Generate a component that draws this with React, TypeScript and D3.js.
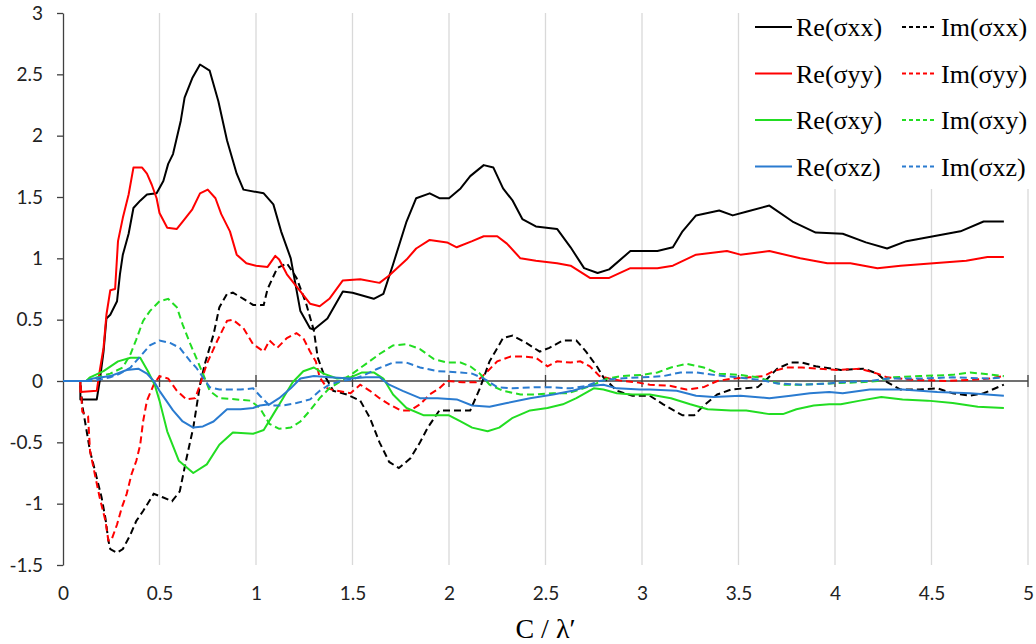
import React, { useEffect, useRef } from 'react';
import * as d3 from 'd3';

type Pt = [number, number];

const xTicks = [0, 0.5, 1, 1.5, 2, 2.5, 3, 3.5, 4, 4.5, 5];
const yTicks = [-1.5, -1, -0.5, 0, 0.5, 1, 1.5, 2, 2.5, 3];

const reXX: Pt[] = [[0,0],[0.09,0],[0.09,-0.15],[0.175,-0.15],[0.19,0],[0.21,0.24],[0.225,0.51],[0.245,0.54],[0.28,0.65],[0.295,0.87],[0.31,1.03],[0.34,1.2],[0.365,1.41],[0.4,1.47],[0.435,1.52],[0.485,1.53],[0.52,1.63],[0.545,1.77],[0.57,1.85],[0.61,2.12],[0.63,2.31],[0.67,2.47],[0.71,2.58],[0.76,2.53],[0.805,2.28],[0.85,1.96],[0.9,1.69],[0.935,1.56],[1.04,1.53],[1.09,1.44],[1.13,1.22],[1.18,1.0],[1.23,0.57],[1.28,0.43],[1.3,0.42],[1.37,0.51],[1.45,0.73],[1.5,0.72],[1.61,0.67],[1.66,0.71],[1.71,0.95],[1.78,1.3],[1.83,1.49],[1.9,1.53],[1.95,1.49],[2.0,1.49],[2.06,1.57],[2.11,1.67],[2.18,1.76],[2.23,1.74],[2.28,1.57],[2.33,1.47],[2.38,1.32],[2.45,1.26],[2.56,1.24],[2.63,1.09],[2.7,0.92],[2.77,0.88],[2.83,0.91],[2.94,1.06],[3.08,1.06],[3.16,1.09],[3.21,1.22],[3.28,1.35],[3.4,1.39],[3.47,1.35],[3.54,1.38],[3.66,1.43],[3.78,1.3],[3.9,1.21],[4.04,1.2],[4.16,1.13],[4.27,1.08],[4.37,1.14],[4.51,1.18],[4.65,1.22],[4.77,1.3],[4.875,1.3]];

const imXX: Pt[] = [[0,0],[0.09,0],[0.1,-0.2],[0.14,-0.57],[0.175,-0.79],[0.2,-0.95],[0.22,-1.12],[0.235,-1.3],[0.245,-1.37],[0.28,-1.4],[0.31,-1.37],[0.35,-1.25],[0.38,-1.14],[0.415,-1.06],[0.47,-0.92],[0.52,-0.95],[0.565,-0.98],[0.605,-0.9],[0.64,-0.63],[0.675,-0.38],[0.71,-0.03],[0.735,0.14],[0.78,0.38],[0.81,0.6],[0.85,0.71],[0.88,0.72],[0.935,0.67],[0.985,0.62],[1.04,0.62],[1.06,0.75],[1.11,0.92],[1.16,0.96],[1.21,0.84],[1.26,0.63],[1.3,0.41],[1.32,0.19],[1.35,0.06],[1.4,-0.08],[1.47,-0.11],[1.54,-0.16],[1.59,-0.3],[1.64,-0.5],[1.69,-0.66],[1.74,-0.71],[1.8,-0.63],[1.85,-0.5],[1.89,-0.38],[1.95,-0.24],[2.04,-0.24],[2.11,-0.24],[2.16,-0.06],[2.21,0.16],[2.28,0.35],[2.33,0.37],[2.4,0.31],[2.47,0.24],[2.52,0.27],[2.59,0.33],[2.66,0.33],[2.71,0.24],[2.77,0.11],[2.8,0.03],[2.87,-0.08],[2.95,-0.12],[3.04,-0.12],[3.11,-0.19],[3.21,-0.28],[3.27,-0.28],[3.32,-0.2],[3.39,-0.11],[3.46,-0.07],[3.6,-0.05],[3.65,0.02],[3.7,0.1],[3.77,0.15],[3.83,0.15],[3.9,0.12],[4.03,0.09],[4.15,0.1],[4.22,0.06],[4.27,-0.01],[4.34,-0.07],[4.44,-0.07],[4.53,-0.06],[4.61,-0.1],[4.7,-0.12],[4.77,-0.1],[4.875,-0.03]];

const reYY: Pt[] = [[0,0],[0.09,0],[0.09,-0.09],[0.175,-0.08],[0.19,0.08],[0.21,0.27],[0.225,0.54],[0.245,0.74],[0.27,0.75],[0.285,1.14],[0.31,1.33],[0.34,1.52],[0.365,1.74],[0.41,1.74],[0.435,1.69],[0.46,1.6],[0.485,1.49],[0.5,1.37],[0.54,1.25],[0.59,1.24],[0.62,1.3],[0.67,1.4],[0.71,1.53],[0.75,1.56],[0.79,1.49],[0.82,1.36],[0.865,1.22],[0.9,1.03],[0.95,0.96],[1.0,0.94],[1.06,0.93],[1.1,1.02],[1.12,0.99],[1.16,0.87],[1.23,0.73],[1.28,0.63],[1.33,0.61],[1.38,0.67],[1.45,0.82],[1.54,0.83],[1.64,0.8],[1.69,0.86],[1.78,0.99],[1.83,1.08],[1.9,1.15],[1.99,1.13],[2.04,1.09],[2.12,1.14],[2.18,1.18],[2.25,1.18],[2.3,1.12],[2.37,1.0],[2.45,0.98],[2.56,0.96],[2.63,0.94],[2.73,0.84],[2.83,0.84],[2.94,0.92],[3.08,0.92],[3.16,0.94],[3.28,1.03],[3.44,1.06],[3.51,1.03],[3.66,1.06],[3.82,1.0],[3.96,0.96],[4.08,0.96],[4.22,0.92],[4.34,0.94],[4.51,0.96],[4.68,0.98],[4.79,1.01],[4.875,1.01]];

const imYY: Pt[] = [[0,0],[0.09,0],[0.1,-0.25],[0.13,-0.29],[0.14,-0.57],[0.165,-0.76],[0.19,-0.95],[0.22,-1.14],[0.235,-1.3],[0.25,-1.3],[0.28,-1.17],[0.305,-1.03],[0.33,-0.92],[0.355,-0.76],[0.38,-0.65],[0.4,-0.52],[0.415,-0.33],[0.435,-0.16],[0.47,-0.03],[0.5,0.04],[0.545,0.02],[0.59,-0.08],[0.64,-0.15],[0.685,-0.14],[0.71,-0.03],[0.745,0.14],[0.8,0.33],[0.85,0.49],[0.88,0.5],[0.935,0.43],[0.985,0.3],[1.04,0.24],[1.07,0.33],[1.11,0.27],[1.16,0.35],[1.21,0.39],[1.245,0.35],[1.28,0.24],[1.31,0.16],[1.33,0.03],[1.37,-0.06],[1.42,-0.08],[1.49,-0.1],[1.54,-0.03],[1.59,-0.08],[1.64,-0.14],[1.69,-0.19],[1.75,-0.24],[1.8,-0.24],[1.85,-0.19],[1.9,-0.11],[1.95,-0.06],[1.99,0.0],[2.07,-0.01],[2.14,-0.01],[2.2,0.08],[2.25,0.16],[2.32,0.2],[2.38,0.2],[2.45,0.19],[2.51,0.12],[2.56,0.16],[2.63,0.15],[2.68,0.16],[2.73,0.12],[2.78,0.04],[2.83,0.02],[2.9,0.0],[2.97,-0.01],[3.04,-0.03],[3.15,-0.04],[3.23,-0.07],[3.32,-0.05],[3.39,0.0],[3.47,0.02],[3.56,0.03],[3.63,0.04],[3.68,0.08],[3.75,0.11],[3.83,0.11],[3.92,0.1],[4.01,0.09],[4.13,0.1],[4.22,0.06],[4.27,0.03],[4.4,0.01],[4.58,0.0],[4.71,0.01],[4.8,0.02],[4.875,0.04]];

const reXY: Pt[] = [[0,0],[0.12,0],[0.14,0.03],[0.21,0.08],[0.285,0.16],[0.35,0.19],[0.4,0.19],[0.44,0.08],[0.475,-0.03],[0.5,-0.16],[0.54,-0.41],[0.6,-0.65],[0.675,-0.75],[0.745,-0.68],[0.81,-0.52],[0.88,-0.42],[0.985,-0.43],[1.04,-0.4],[1.09,-0.27],[1.14,-0.14],[1.19,-0.01],[1.245,0.08],[1.3,0.11],[1.35,0.06],[1.42,0.02],[1.49,0.03],[1.55,0.07],[1.61,0.07],[1.66,0.02],[1.71,-0.11],[1.78,-0.22],[1.87,-0.28],[1.94,-0.28],[2.0,-0.28],[2.06,-0.33],[2.12,-0.38],[2.2,-0.41],[2.26,-0.38],[2.33,-0.3],[2.42,-0.24],[2.51,-0.22],[2.59,-0.19],[2.66,-0.14],[2.75,-0.06],[2.8,-0.07],[2.87,-0.1],[2.95,-0.11],[3.04,-0.11],[3.15,-0.14],[3.25,-0.19],[3.34,-0.23],[3.46,-0.24],[3.54,-0.24],[3.66,-0.27],[3.73,-0.27],[3.8,-0.23],[3.89,-0.2],[3.97,-0.19],[4.03,-0.19],[4.13,-0.16],[4.24,-0.13],[4.35,-0.15],[4.48,-0.16],[4.61,-0.18],[4.74,-0.21],[4.875,-0.22]];

const imXY: Pt[] = [[0,0],[0.12,0],[0.155,0.02],[0.245,0.06],[0.31,0.11],[0.35,0.22],[0.38,0.34],[0.415,0.49],[0.45,0.57],[0.5,0.65],[0.545,0.67],[0.59,0.6],[0.62,0.46],[0.66,0.3],[0.69,0.19],[0.725,0.06],[0.76,-0.08],[0.81,-0.14],[0.9,-0.15],[0.97,-0.16],[1.02,-0.22],[1.07,-0.35],[1.12,-0.39],[1.18,-0.38],[1.23,-0.33],[1.28,-0.24],[1.33,-0.14],[1.38,-0.06],[1.44,0.0],[1.5,0.06],[1.57,0.14],[1.64,0.22],[1.71,0.29],[1.78,0.3],[1.85,0.26],[1.92,0.18],[1.99,0.15],[2.06,0.15],[2.11,0.12],[2.16,0.06],[2.21,-0.03],[2.28,-0.08],[2.37,-0.11],[2.45,-0.11],[2.54,-0.1],[2.61,-0.1],[2.68,-0.07],[2.75,-0.03],[2.82,0.02],[2.89,0.04],[3.0,0.05],[3.08,0.07],[3.15,0.11],[3.23,0.14],[3.32,0.11],[3.4,0.06],[3.51,0.05],[3.6,0.03],[3.66,0.0],[3.73,-0.03],[3.83,-0.03],[3.97,-0.02],[4.13,-0.01],[4.22,0.0],[4.3,0.03],[4.44,0.04],[4.61,0.05],[4.7,0.07],[4.875,0.04]];

const reXZ: Pt[] = [[0,0],[0.12,0],[0.155,0.02],[0.245,0.04],[0.33,0.09],[0.39,0.1],[0.435,0.06],[0.47,0.0],[0.5,-0.08],[0.57,-0.24],[0.62,-0.33],[0.675,-0.38],[0.725,-0.37],[0.78,-0.33],[0.85,-0.23],[0.92,-0.23],[0.985,-0.22],[1.02,-0.2],[1.07,-0.19],[1.12,-0.14],[1.18,-0.06],[1.23,0.02],[1.3,0.04],[1.38,0.03],[1.49,0.02],[1.57,0.03],[1.64,0.03],[1.69,-0.03],[1.76,-0.08],[1.85,-0.14],[1.94,-0.14],[2.04,-0.15],[2.12,-0.2],[2.21,-0.21],[2.3,-0.18],[2.42,-0.14],[2.54,-0.11],[2.64,-0.08],[2.73,-0.04],[2.8,-0.03],[2.87,-0.06],[2.99,-0.07],[3.04,-0.07],[3.18,-0.08],[3.28,-0.12],[3.37,-0.13],[3.51,-0.12],[3.66,-0.14],[3.77,-0.12],[3.87,-0.1],[3.97,-0.09],[4.04,-0.1],[4.18,-0.07],[4.35,-0.07],[4.53,-0.09],[4.7,-0.1],[4.875,-0.12]];

const imXZ: Pt[] = [[0,0],[0.12,0],[0.155,0.0],[0.245,0.03],[0.295,0.06],[0.35,0.11],[0.4,0.2],[0.45,0.29],[0.5,0.33],[0.555,0.31],[0.605,0.27],[0.66,0.16],[0.69,0.11],[0.725,0.03],[0.76,-0.05],[0.81,-0.07],[0.92,-0.07],[0.985,-0.06],[1.02,-0.12],[1.07,-0.2],[1.14,-0.2],[1.21,-0.18],[1.28,-0.15],[1.33,-0.08],[1.38,-0.03],[1.44,0.0],[1.49,0.01],[1.55,0.04],[1.63,0.1],[1.71,0.15],[1.78,0.15],[1.85,0.11],[1.94,0.08],[2.06,0.07],[2.12,0.06],[2.18,0.02],[2.25,-0.05],[2.33,-0.06],[2.44,-0.05],[2.52,-0.05],[2.63,-0.06],[2.71,-0.04],[2.78,0.0],[2.87,0.02],[3.0,0.03],[3.11,0.04],[3.2,0.07],[3.28,0.07],[3.37,0.05],[3.49,0.03],[3.61,0.01],[3.7,-0.02],[3.83,-0.03],[3.97,-0.02],[4.03,-0.01],[4.18,0.0],[4.28,0.02],[4.44,0.02],[4.61,0.03],[4.79,0.02],[4.875,0.03]];

const components = ['σxx', 'σyy', 'σxy', 'σxz'];
const colors = ['#000000', '#ff0000', '#22dd22', '#2a7bd0'];
const reSeries = [reXX, reYY, reXY, reXZ];
const imSeries = [imXX, imYY, imXY, imXZ];

export default function App() {
  const svgRef = useRef<SVGSVGElement>(null);

  useEffect(() => {
    const width = 1036;
    const height = 644;
    const margin = { top: 13, right: 8, bottom: 79, left: 63 };

    const x = d3.scaleLinear().domain([0, 5]).range([margin.left, width - margin.right]);
    const y = d3.scaleLinear().domain([-1.5, 3]).range([height - margin.bottom, margin.top]);

    const svg = d3.select(svgRef.current);
    svg.selectAll('*').remove();
    svg.append('rect').attr('width', width).attr('height', height).attr('fill', '#fff');

    // vertical gridlines
    svg.append('g')
      .selectAll('line')
      .data(xTicks.slice(1))
      .join('line')
      .attr('x1', d => x(d)).attr('x2', d => x(d))
      .attr('y1', y(3)).attr('y2', y(-1.5))
      .attr('stroke', '#d9d9d9')
      .attr('stroke-width', 1.3);

    // y axis
    const yAxis = svg.append('g')
      .attr('transform', `translate(${margin.left},0)`)
      .call(d3.axisLeft(y).tickValues(yTicks).tickSizeInner(6).tickSizeOuter(0).tickPadding(14).tickFormat(d => String(d)));
    yAxis.select('.domain').attr('stroke', '#404040').attr('stroke-width', 1.3);
    yAxis.selectAll('.tick line').attr('stroke', '#404040').attr('stroke-width', 1.3);
    yAxis.selectAll('text').attr('font-family', 'Lato, sans-serif').attr('font-size', 19).attr('fill', '#222');

    // x tick labels
    const xAxis = svg.append('g')
      .attr('transform', `translate(0,${y(-1.5)})`)
      .call(d3.axisBottom(x).tickValues(xTicks).tickSize(0).tickPadding(22).tickFormat(d => String(d)));
    xAxis.select('.domain').remove();
    xAxis.selectAll('text').attr('font-family', 'Lato, sans-serif').attr('font-size', 19).attr('fill', '#222');

    // zero line with crossing ticks
    const zero = svg.append('g').attr('transform', `translate(0,${y(0)})`);
    zero.append('line')
      .attr('x1', x(0)).attr('x2', x(5))
      .attr('stroke', '#404040').attr('stroke-width', 1.3);
    zero.selectAll('line.tk')
      .data(xTicks.slice(1))
      .join('line')
      .attr('class', 'tk')
      .attr('x1', d => x(d)).attr('x2', d => x(d))
      .attr('y1', -6).attr('y2', 6)
      .attr('stroke', '#404040').attr('stroke-width', 1.3);

    const line = d3.line<Pt>()
      .x(d => x(d[0]))
      .y(d => y(d[1]));

    components.forEach((_, i) => {
      svg.append('path')
        .datum(reSeries[i])
        .attr('d', line)
        .attr('fill', 'none')
        .attr('stroke', colors[i])
        .attr('stroke-width', 2)
        .attr('stroke-linejoin', 'round');
      svg.append('path')
        .datum(imSeries[i])
        .attr('d', line)
        .attr('fill', 'none')
        .attr('stroke', colors[i])
        .attr('stroke-width', 2)
        .attr('stroke-dasharray', '7,4');
    });

    // legend
    const legend = svg.append('g');
    legend.append('rect')
      .attr('x', 745).attr('y', margin.top)
      .attr('width', width - 745).attr('height', 176)
      .attr('fill', '#fff');
    components.forEach((c, i) => {
      const cy = 27 + i * 46.5;
      const row = legend.append('g').attr('transform', `translate(0,${cy})`);
      row.append('line').attr('x1', 755).attr('x2', 792)
        .attr('stroke', colors[i]).attr('stroke-width', 2);
      row.append('text').attr('x', 796).attr('dy', '0.35em')
        .attr('font-family', '"Liberation Serif", serif').attr('font-size', 26)
        .text(`Re(${c})`);
      row.append('line').attr('x1', 902).attr('x2', 937)
        .attr('stroke', colors[i]).attr('stroke-width', 2)
        .attr('stroke-dasharray', '4,3');
      row.append('text').attr('x', 941).attr('dy', '0.35em')
        .attr('font-family', '"Liberation Serif", serif').attr('font-size', 26)
        .text(`Im(${c})`);
    });

    // x axis title
    svg.append('text')
      .attr('x', (x(0) + x(5)) / 2)
      .attr('y', 638)
      .attr('text-anchor', 'middle')
      .attr('font-family', '"Liberation Serif", serif')
      .attr('font-size', 28)
      .text('C / λ′');
  }, []);

  return (
    <svg ref={svgRef} width={1036} height={644} style={{ position: 'absolute', left: 0, top: 0 }} />
  );
}
